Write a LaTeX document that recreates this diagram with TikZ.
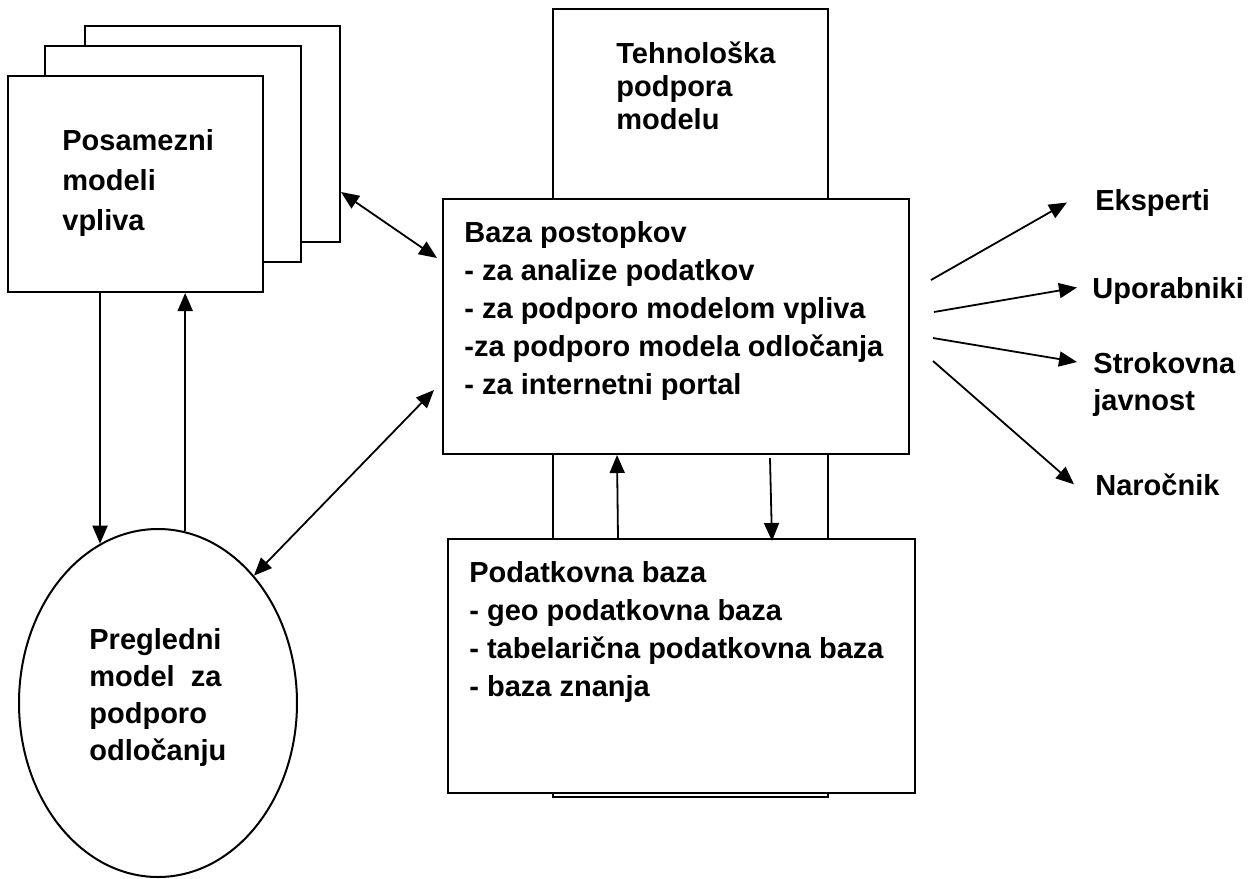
\documentclass[tikz,border=0pt]{standalone}
\usepackage{fontspec}
\setmainfont{Liberation Sans}
\usetikzlibrary{arrows.meta,shapes.geometric,calc}

\tikzset{
  box/.style={draw, line width=1pt, fill=white, inner sep=0pt},
  lbl/.style={font=\bfseries\fontsize{14.5pt}{#1}\selectfont, inner sep=0pt, align=left},
  lbl/.default=19pt,
  arr/.style={line width=0.9pt, -{Triangle[length=9pt,width=7.5pt]}},
  dbl/.style={line width=0.9pt, {Triangle[length=9pt,width=7.5pt]}-{Triangle[length=9pt,width=7.5pt]}},
}

\begin{document}
\begin{tikzpicture}[x=0.5pt, y=-0.5pt]
\fill[white] (0,0) rectangle (1255,879);
\useasboundingbox (0,0) rectangle (1255,879);

% boxes
\node[box, minimum width=137.5pt, minimum height=394pt]   (tp) at (690.5,403) {};
\node[box, minimum width=127.5pt, minimum height=108pt]   (bk) at (212.5,134) {};
\node[box, minimum width=128pt,   minimum height=108pt]   (md) at (173,154) {};
\node[box, minimum width=127.5pt, minimum height=108pt]   (fr) at (135.5,184) {};
\node[box, minimum width=233pt,   minimum height=127.5pt] (bp) at (676,326.5) {};
\node[box, minimum width=233.5pt, minimum height=127pt]   (pb) at (681.5,666) {};
\node[box, ellipse, minimum width=139pt, minimum height=174pt] (pm) at (158,703) {};

% texts
\node[lbl=20pt, anchor=north west] (frt) at (62,129) {Posamezni\\modeli\\vpliva};
\node[lbl=16.5pt, anchor=north west] (tpt) at (616,41) {Tehnološka\\podpora\\modelu};
\node[lbl, anchor=north west] (bpt) at (464,221) {Baza postopkov\\- za analize podatkov\\- za podporo modelom vpliva\\-za podporo modela odločanja\\- za internetni portal};
\node[lbl, anchor=north west] (pbt) at (469,561) {Podatkovna baza\\- geo podatkovna baza\\- tabelarična podatkovna baza\\- baza znanja};
\node[lbl=18.5pt, anchor=north west] (pmt) at (89,628) {Pregledni\\model\ \ za\\podporo\\odločanju};

\node[lbl, anchor=base west] (ek) at (1095,210) {Eksperti};
\node[lbl, anchor=base west] (up) at (1092,298) {Uporabniki};
\node[lbl=18.5pt, anchor=north west] (sj) at (1093,352) {Strokovna\\javnost};
\node[lbl, anchor=base west] (nr) at (1095,495) {Naročnik};

% connectors
\draw[arr] (pm.110 |- fr.south) -- (pm.110);
\draw[arr] (pm.81) -- (pm.81 |- fr.south);
\draw[dbl] ($(bk.east)+(0,58)$) -- ($(bp.west)+(-5,-68.5)$);
\draw[dbl] (pm.53) -- ($(bp.west)+(-8,63.5)$);
\draw[arr] ($(pb.north)+(-63.5,0)$) -- ($(bp.south)+(-59,0)$);
\draw[arr] ($(bp.south)+(94,3)$) -- ($(pb.north)+(90.5,3)$);

\coordinate (o1) at ($(bp.east)+(21,-46.5)$);
\coordinate (o2) at ($(bp.east)+(24,-14.5)$);
\coordinate (o3) at ($(bp.east)+(23,11.5)$);
\coordinate (o4) at ($(bp.east)+(23,34.5)$);
\draw[arr] (o1) -- ($(ek.west)+(-28,0)$);
\draw[arr] (o2) -- ($(up.west)+(-15,-3)$);
\draw[arr] (o3) -- ($(sj.north west)+(-16,10)$);
\draw[arr] (o4) -- ($(nr.west)+(-21,0)$);
\end{tikzpicture}
\end{document}
